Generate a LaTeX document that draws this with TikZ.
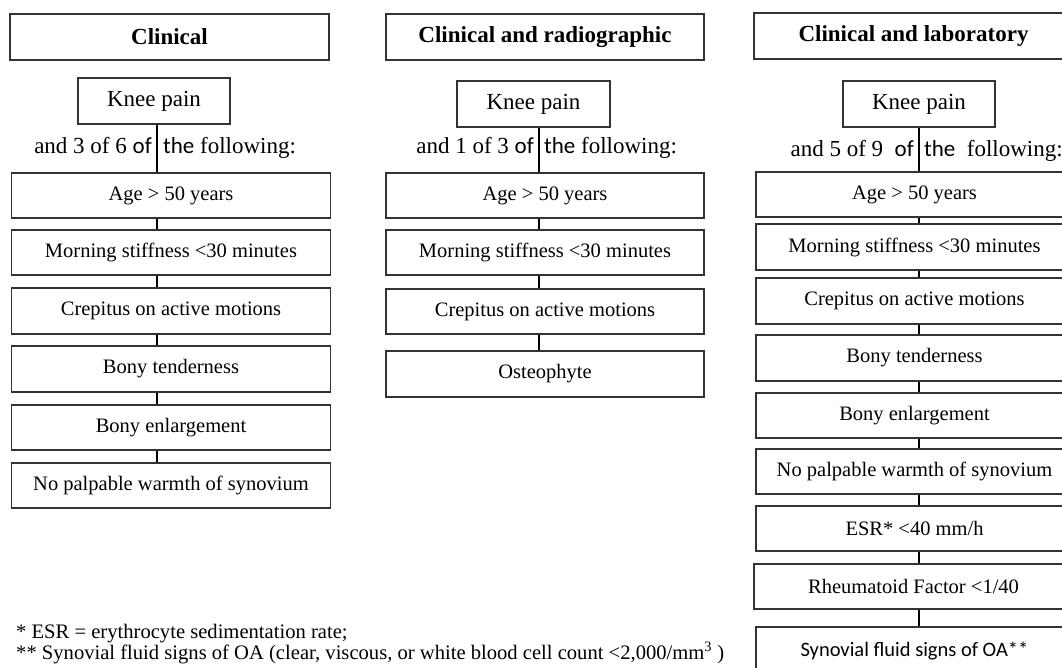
\documentclass[tikz,border=0pt]{standalone}
\usepackage{fontspec}
\setmainfont{Liberation Serif}
\newfontfamily\calib{Carlito}
\begin{document}
\begin{tikzpicture}[x=1pt,y=-1pt,
  box/.style={draw=black!80, line width=1.1pt, rectangle, inner sep=0pt, font=\fontsize{20.5}{24}\selectfont},
  head/.style={box, line width=1.3pt, font=\fontsize{23}{27}\selectfont\bfseries},
  knee/.style={box, font=\fontsize{23}{27}\selectfont},
  lbl/.style={inner sep=0pt, font=\fontsize{23}{27}\selectfont},
  foot/.style={inner sep=0pt, anchor=base west, font=\fontsize{20.6}{24}\selectfont},
  conn/.style={line width=2.2pt, black}]
\useasboundingbox (0,0) rectangle (1062,668);
\clip (0,0) rectangle (1062,668);
\fill[white] (0,0) rectangle (1062,668);
% ---------- column 1 ----------
\coordinate (x1) at (157,0);
\node[head, minimum width=319pt, minimum height=46pt] (h1) at (169.5,37) {Clinical};
\node[knee, minimum width=152pt, minimum height=46pt] (k1) at (154,101) {Knee pain};
\node[lbl, anchor=base east] (t1a) at (152,154) {and 3 of 6 {\calib of}};
\node[lbl, anchor=base west] (t1b) at (163,154) {{\calib the} following:};
\node[box, minimum width=319pt, minimum height=45pt] (a1) at (171,195.5) {Age > 50 years};
\node[box, minimum width=319pt, minimum height=45pt] (b1) at (171,252.5) {Morning stiffness <30 minutes};
\node[box, minimum width=319pt, minimum height=46pt] (c1) at (171,311) {Crepitus on active motions};
\node[box, minimum width=319pt, minimum height=46pt] (d1) at (171,369) {Bony tenderness};
\node[box, minimum width=319pt, minimum height=45pt] (e1) at (171,427.5) {Bony enlargement};
\node[box, minimum width=319pt, minimum height=45pt] (f1) at (171,485.5) {No palpable warmth of synovium};
\draw[conn] (k1.south -| x1) -- (a1.north -| x1);
\draw[conn] (a1.south -| x1) -- (b1.north -| x1);
\draw[conn] (b1.south -| x1) -- (c1.north -| x1);
\draw[conn] (c1.south -| x1) -- (d1.north -| x1);
\draw[conn] (d1.south -| x1) -- (e1.north -| x1);
\draw[conn] (e1.south -| x1) -- (f1.north -| x1);
% ---------- column 2 ----------
\coordinate (x2) at (539,0);
\node[head, minimum width=318pt, minimum height=46pt] (h2) at (545,37) {Clinical and radiographic};
\node[knee, minimum width=153pt, minimum height=46pt] (k2) at (533.5,104) {Knee pain};
\node[lbl, anchor=base east] (t2a) at (534,154) {and 1 of 3 {\calib of}};
\node[lbl, anchor=base west] (t2b) at (544,154) {{\calib the} following:};
\node[box, minimum width=318pt, minimum height=45pt] (a2) at (545,195.5) {Age > 50 years};
\node[box, minimum width=318pt, minimum height=45pt] (b2) at (545,252.5) {Morning stiffness <30 minutes};
\node[box, minimum width=318pt, minimum height=45pt] (c2) at (545,311.5) {Crepitus on active motions};
\node[box, minimum width=318pt, minimum height=46pt] (d2) at (545,374) {Osteophyte};
\draw[conn] (k2.south -| x2) -- (a2.north -| x2);
\draw[conn] (a2.south -| x2) -- (b2.north -| x2);
\draw[conn] (b2.south -| x2) -- (c2.north -| x2);
\draw[conn] (c2.south -| x2) -- (d2.north -| x2);
% ---------- column 3 ----------
\coordinate (x3) at (919,0);
\node[head, minimum width=319pt, minimum height=46pt] (h3) at (913.5,36) {Clinical and laboratory};
\node[knee, minimum width=152pt, minimum height=46pt] (k3) at (919,104) {Knee pain};
\node[lbl, anchor=base east] (t3a) at (914,157) {and 5 of 9\ \ {\calib of}};
\node[lbl, anchor=base west] (t3b) at (924,157) {{\calib the}\ \ following:};
\node[box, minimum width=317pt, minimum height=45pt] (a3) at (914.5,194.5) {Age > 50 years};
\node[box, minimum width=317pt, minimum height=46pt] (b3) at (914.5,247) {Morning stiffness <30 minutes};
\node[box, minimum width=317pt, minimum height=46pt] (c3) at (914.5,301) {Crepitus on active motions};
\node[box, minimum width=317pt, minimum height=46pt] (d3) at (914.5,358) {Bony tenderness};
\node[box, minimum width=317pt, minimum height=45pt] (e3) at (914.5,415.5) {Bony enlargement};
\node[box, minimum width=317pt, minimum height=45pt] (f3) at (914.5,471.5) {No palpable warmth of synovium};
\node[box, minimum width=317pt, minimum height=45pt] (g3) at (914.5,528.5) {ESR* <40 mm/h};
\node[box, minimum width=319pt, minimum height=45pt] (i3) at (913.5,586.5) {Rheumatoid Factor <1/40};
\node[box, minimum width=317pt, minimum height=48pt, font=\calib\fontsize{20.5}{24}\selectfont] (j3) at (914.5,651) {Synovial fluid signs of OA**};
\draw[conn] (k3.south -| x3) -- (a3.north -| x3);
\draw[conn] (a3.south -| x3) -- (b3.north -| x3);
\draw[conn] (b3.south -| x3) -- (c3.north -| x3);
\draw[conn] (c3.south -| x3) -- (d3.north -| x3);
\draw[conn] (d3.south -| x3) -- (e3.north -| x3);
\draw[conn] (e3.south -| x3) -- (f3.north -| x3);
\draw[conn] (f3.south -| x3) -- (g3.north -| x3);
\draw[conn] (g3.south -| x3) -- (i3.north -| x3);
\draw[conn] (i3.south -| x3) -- (j3.north -| x3);
% ---------- footnotes ----------
\node[foot] (n1) at (16,638) {* ESR = erythrocyte sedimentation rate;};
\node[foot] (n2) at (16,659) {** Synovial fluid signs of OA (clear, viscous, or white blood cell count <2,000/mm\textsuperscript{3} )};
\end{tikzpicture}
\end{document}
